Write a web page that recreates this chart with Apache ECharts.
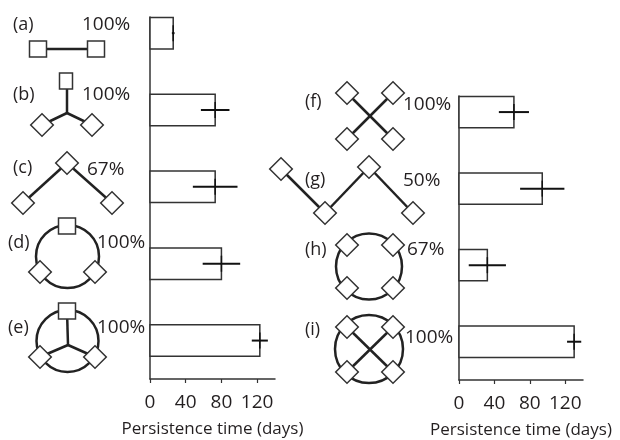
<!DOCTYPE html>
<html>
<head>
<meta charset="utf-8">
<script src="https://cdn.jsdelivr.net/npm/echarts@6/dist/echarts.min.js"></script>
<style>
  html, body { margin: 0; padding: 0; background: #fff; }
  #chart { width: 620px; height: 440px; }
</style>
</head>
<body>
<div id="chart"></div>
<script>
// panels (a)-(e) on the left, (f)-(i) on the right
const rowsLeft = ['(a)', '(b)', '(c)', '(d)', '(e)']
const rowsRight = ['(f)', '(g)', '(h)', '(i)']
const timeLeft = [26, 73, 73, 80, 123]
const errLeft = [1.5, 16, 25, 21, 9]
const timeRight = [62, 94, 32, 130]
const errRight = [17, 25, 21, 8]
const pctLeft = ['100%', '100%', '67%', '100%', '100%']
const pctRight = ['100%', '50%', '67%', '100%']
const xTicks = [0, 40, 80, 120]

const FONT = '"Open Sans", "Noto Sans", sans-serif'
const INK = '#231f20'

// where the letters / percentages / network sketches sit
const letterPos = [[13, 25], [13, 95], [13, 168], [8, 243], [8, 328],
  [305, 102], [305, 180], [305, 250], [305, 330]]
const pctPos = [[82, 25], [82, 95], [87, 170], [97, 243], [97, 328],
  [403, 105], [403, 181], [407, 250], [405, 338]]

const chart = echarts.init(document.getElementById('chart'))

function renderBar(params, api) {
  const v = api.value(0)
  const row = api.value(1)
  const e = api.value(2)
  const p0 = api.coord([0, row])
  const p1 = api.coord([v, row])
  const lo = api.coord([v - e, row])
  const hi = api.coord([v + e, row])
  const h = api.size([0, 0.41])[1]
  return {
    type: 'group',
    children: [{
      type: 'rect',
      shape: { x: p0[0], y: p0[1] - h / 2, width: p1[0] - p0[0], height: h },
      style: { fill: '#fff', stroke: '#333', lineWidth: 1.5 }
    }, {
      type: 'line',
      shape: { x1: lo[0], y1: p0[1], x2: hi[0], y2: p0[1] },
      style: { stroke: '#111', lineWidth: 2 }
    }, {
      type: 'line',
      shape: { x1: p1[0], y1: p0[1] - 8, x2: p1[0], y2: p0[1] + 8 },
      style: { stroke: '#111', lineWidth: 1.5 }
    }]
  }
}

// little helpers for the network sketches
const edgeStyle = { stroke: '#222', lineWidth: 2.5 }
const nodeStyle = { fill: '#fff', stroke: '#333', lineWidth: 1.5 }
function ln(x1, y1, x2, y2) {
  return { type: 'line', shape: { x1, y1, x2, y2 }, style: edgeStyle, z: 1 }
}
function ring(cx, cy, r) {
  return { type: 'circle', shape: { cx, cy, r }, style: { fill: 'none', stroke: '#222', lineWidth: 2.5 }, z: 1 }
}
function sq(cx, cy, w, h) {
  return { type: 'rect', shape: { x: cx - w / 2, y: cy - h / 2, width: w, height: h }, style: nodeStyle, z: 2 }
}
function dia(cx, cy) {
  return { type: 'rect', x: cx, y: cy, rotation: Math.PI / 4, shape: { x: -8, y: -8, width: 16, height: 16 }, style: nodeStyle, z: 2 }
}

const sketches = [
  // (a)
  ln(47, 49, 88, 49), sq(38, 49, 17, 16), sq(96, 49, 17, 16),
  // (b)
  ln(67, 85, 67, 113), ln(67, 113, 42, 125), ln(67, 113, 92, 125),
  sq(66, 81, 13, 16), dia(42, 125), dia(92, 125),
  // (c)
  ln(67, 163, 23, 203), ln(67, 163, 112, 203),
  dia(67, 163), dia(23, 203), dia(112, 203),
  // (d)
  ring(67.5, 256.5, 31.5), sq(67, 226, 17, 16), dia(40, 272), dia(95, 272),
  // (e)
  ring(67.5, 341, 31), ln(68, 345, 67, 311), ln(68, 345, 40, 357), ln(68, 345, 95, 357),
  sq(67, 311, 17, 16), dia(40, 357), dia(95, 357),
  // (f)
  ln(347, 93, 393, 139), ln(393, 93, 347, 139),
  dia(347, 93), dia(393, 93), dia(347, 139), dia(393, 139),
  // (g)
  ln(281, 169, 325, 213), ln(325, 213, 369, 167), ln(369, 167, 413, 213),
  dia(281, 169), dia(325, 213), dia(369, 167), dia(413, 213),
  // (h)
  ring(369, 266.5, 33), dia(347, 245), dia(393, 245), dia(347, 288), dia(393, 288),
  // (i)
  ring(369, 349, 34), ln(347, 327, 393, 372), ln(393, 327, 347, 372),
  dia(347, 327), dia(393, 327), dia(347, 372), dia(393, 372)
]

const letters = rowsLeft.concat(rowsRight)
const pcts = pctLeft.concat(pctRight)
const texts = []
letters.forEach((t, i) => {
  texts.push({
    type: 'text', x: letterPos[i][0], y: letterPos[i][1], z: 3,
    style: { text: t, font: '18px ' + FONT, fill: INK, verticalAlign: 'middle' }
  })
})
pcts.forEach((t, i) => {
  texts.push({
    type: 'text', x: pctPos[i][0], y: pctPos[i][1], z: 3,
    style: { text: t, font: '19px ' + FONT, fill: INK, verticalAlign: 'middle' }
  })
})

function xAxisFor(gridIndex) {
  return {
    gridIndex,
    type: 'value',
    position: 'bottom',
    min: 0,
    max: 140,
    interval: 40,
    name: 'Persistence time (days)',
    nameLocation: 'middle',
    nameGap: 42,
    nameTextStyle: { fontSize: 17, color: INK, fontFamily: FONT },
    axisLine: { show: true, onZero: false, lineStyle: { color: '#333', width: 1.5 } },
    axisTick: { show: true, length: 4, customValues: xTicks, lineStyle: { color: '#333', width: 1.2 } },
    axisLabel: { customValues: xTicks, fontSize: 19, color: INK, fontFamily: FONT, margin: 14 },
    splitLine: { show: false }
  }
}
function yAxisFor(gridIndex, n) {
  return {
    gridIndex,
    type: 'value',
    inverse: true,
    min: -0.21,
    max: n - 0.5,
    axisLine: { show: true, onZero: false, lineStyle: { color: '#333', width: 1.5 } },
    axisTick: { show: false },
    axisLabel: { show: false },
    splitLine: { show: false }
  }
}

const option = {
  backgroundColor: '#fff',
  animation: false,
  grid: [
    { left: 150, right: 345, top: 17, bottom: 61, outerBoundsMode: 'none' },
    { left: 459, right: 37, top: 96, bottom: 60, outerBoundsMode: 'none' }
  ],
  xAxis: [xAxisFor(0), xAxisFor(1)],
  yAxis: [yAxisFor(0, rowsLeft.length), yAxisFor(1, rowsRight.length)],
  series: [{
    name: 'left',
    type: 'custom',
    xAxisIndex: 0,
    yAxisIndex: 0,
    renderItem: renderBar,
    encode: { x: 0, y: 1 },
    data: timeLeft.map((v, i) => [v, i, errLeft[i]])
  }, {
    name: 'right',
    type: 'custom',
    xAxisIndex: 1,
    yAxisIndex: 1,
    renderItem: renderBar,
    encode: { x: 0, y: 1 },
    data: timeRight.map((v, i) => [v, i, errRight[i]])
  }],
  graphic: sketches.concat(texts)
}
chart.setOption(option)
</script>
</body>
</html>
